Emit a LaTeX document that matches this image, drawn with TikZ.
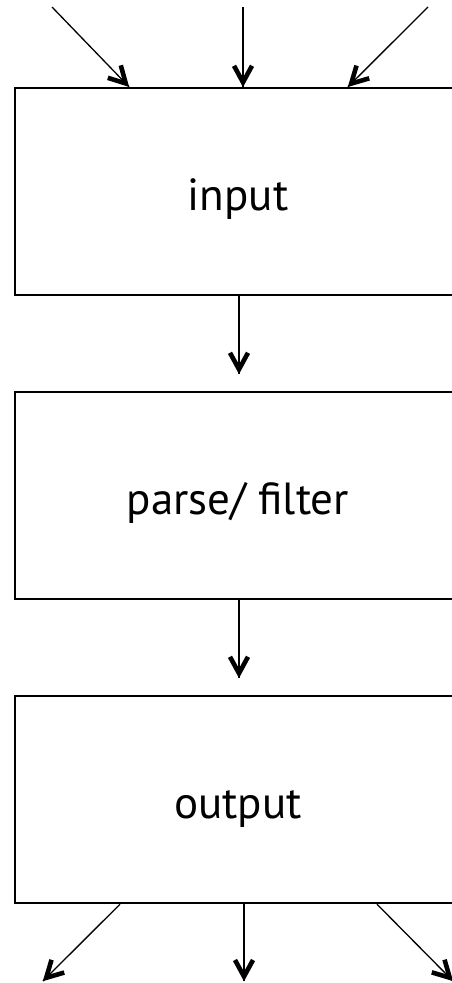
\documentclass[tikz,border=0pt]{standalone}
\usepackage{fontspec}
\setmainfont{PT Sans}
\usetikzlibrary{decorations.markings}
\tikzset{
  stagebox/.style={draw=black, line width=2.4pt, fill=white, minimum width=446pt, minimum height=207pt,
    inner sep=0pt, text height=38pt, text depth=0pt, font=\fontsize{45pt}{54pt}\selectfont},
  vhead/.style={line width=4.6pt, line join=miter, line cap=butt},
  flow/.style={line width=1.3pt, postaction={decorate, decoration={markings,
    mark=at position 1 with {\draw[vhead]
      (-21pt,9pt) -- (-4.5pt,0pt) -- (-21pt,-9pt);}}}}
}
\begin{document}
\begin{tikzpicture}[x=1pt,y=-1pt]
\useasboundingbox (0,0) rectangle (452,983);
\clip (0,0) rectangle (452,983);
\node[stagebox] (in) at (238,191.5) {input};
\node[stagebox] (pf) at (238,495.5) {parse/ filter};
\node[stagebox] (out) at (238,799.5) {output};
% free ends
\coordinate (s1) at (52,7);
\coordinate (s2) at (243,7);
\coordinate (s3) at (428,7);
\coordinate (e1) at (43,981);
\coordinate (e2) at (244,981);
\coordinate (e3) at (453,981);
% top inputs
\draw[flow] (s1) -- (in.north -| 129,0);
\draw[flow] (s2) -- (in.north -| 243,0);
\draw[flow] (s3) -- (in.north -| 348,0);
% between stages
\draw[flow] (in.south -| 239,0) -- ([yshift=17pt]pf.north -| 239,0);
\draw[flow] (pf.south -| 239,0) -- ([yshift=17pt]out.north -| 239,0);
% outputs
\draw[flow] (out.south -| 120,0) -- (e1);
\draw[flow] (out.south -| 244,0) -- (e2);
\draw[flow] (out.south -| 377,0) -- (e3);
\end{tikzpicture}
\end{document}
